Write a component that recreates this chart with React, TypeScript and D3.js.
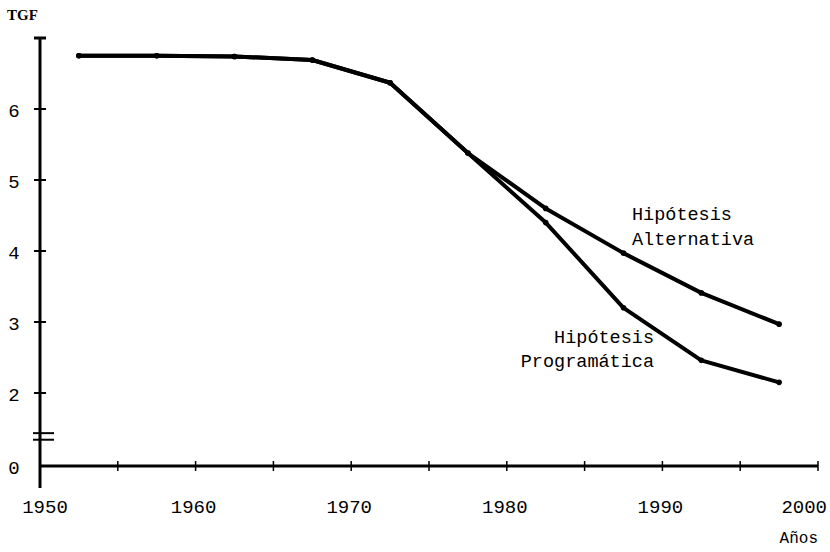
import React from 'react';
import * as d3 from 'd3';

const years = [1952.5, 1957.5, 1962.5, 1967.5, 1972.5, 1977.5, 1982.5, 1987.5, 1992.5, 1997.5];
const alternativa = [6.75, 6.75, 6.74, 6.69, 6.37, 5.38, 4.6, 3.97, 3.41, 2.97];
const programatica = [6.75, 6.75, 6.74, 6.69, 6.37, 5.38, 4.4, 3.2, 2.46, 2.15];

const xTickValues = [1950, 1955, 1960, 1965, 1970, 1975, 1980, 1985, 1990, 1995, 2000];
const xTickLabels = [1950, 1960, 1970, 1980, 1990, 2000];
const yTickValues = [2, 3, 4, 5, 6];
const yTickLabels = [0, 2, 3, 4, 5, 6];

const W = 830;
const H = 552;
const mono = '"Liberation Mono", "DejaVu Sans Mono", monospace';

export default function App(): JSX.Element {
  const x = d3.scaleLinear().domain([1950, 2000]).range([40, 818]);
  // broken axis: 0 sits just below 2
  const y = d3.scaleLinear().domain([0, 2, 7]).range([466, 393, 38]);

  const line = d3
    .line<number>()
    .x((_, i) => x(years[i]))
    .y(d => y(d));

  const series = [programatica, alternativa];
  const axisX = x(1950);
  const axisY = y(0);

  return (
    <svg
      xmlns="http://www.w3.org/2000/svg"
      width={W}
      height={H}
      style={{ position: 'absolute', left: 0, top: 0, background: '#fff' }}
    >
      <rect width={W} height={H} fill="#fff" />

      {/* y axis */}
      <line x1={axisX} x2={axisX} y1={y(7)} y2={axisY + 22} stroke="#000" strokeWidth={3} />
      <line x1={axisX - 6} x2={axisX + 6} y1={y(7)} y2={y(7)} stroke="#000" strokeWidth={3} />
      {yTickValues.map(v => (
        <line key={v} x1={axisX - 6} x2={axisX + 6} y1={y(v)} y2={y(v)} stroke="#000" strokeWidth={2} />
      ))}
      {/* axis break */}
      {[0.72, 0.9].map(v => (
        <line key={v} x1={axisX - 7} x2={axisX + 14} y1={y(v)} y2={y(v)} stroke="#000" strokeWidth={2} />
      ))}
      {yTickLabels.map(v => (
        <text
          key={v}
          x={14}
          y={y(v) + 8}
          textAnchor="middle"
          fontFamily={mono}
          fontSize={19}
          fill="#000"
        >
          {v}
        </text>
      ))}
      <text x={7} y={20} fontFamily='"Liberation Serif", serif' fontWeight="bold" fontSize={15} fill="#000">
        TGF
      </text>

      {/* x axis */}
      <line x1={axisX} x2={x(2000)} y1={axisY} y2={axisY} stroke="#000" strokeWidth={3} />
      {xTickValues.map(v => (
        <line key={v} x1={x(v)} x2={x(v)} y1={axisY - 5} y2={axisY + 5} stroke="#000" strokeWidth={1.5} />
      ))}
      {xTickLabels.map((v, i) => {
        const last = i === xTickLabels.length - 1;
        return (
          <text
            key={v}
            x={last ? W - 3 : x(v) + (i === 0 ? 5 : -2)}
            y={axisY + 47}
            textAnchor={last ? 'end' : 'middle'}
            fontFamily={mono}
            fontSize={19}
            fill="#000"
          >
            {v}
          </text>
        );
      })}
      <text x={818} y={543} textAnchor="end" fontFamily={mono} fontSize={16} fill="#000">
        Años
      </text>

      {/* series */}
      {series.map((s, k) => (
        <g key={k}>
          <path
            d={line(s) ?? ''}
            fill="none"
            stroke="#000"
            strokeWidth={4}
            strokeLinejoin="round"
            strokeLinecap="round"
          />
          {s.map((v, i) => (
            <circle key={i} cx={x(years[i])} cy={y(v)} r={2.8} fill="#000" />
          ))}
        </g>
      ))}

      {/* labels */}
      <text fontFamily={mono} fontSize={18.5} fill="#000">
        <tspan x={632} y={220}>Hipótesis</tspan>
        <tspan x={632} y={245}>Alternativa</tspan>
      </text>
      <text fontFamily={mono} fontSize={18.5} fill="#000" textAnchor="end">
        <tspan x={654} y={343}>Hipótesis</tspan>
        <tspan x={654} y={367}>Programática</tspan>
      </text>
    </svg>
  );
}
